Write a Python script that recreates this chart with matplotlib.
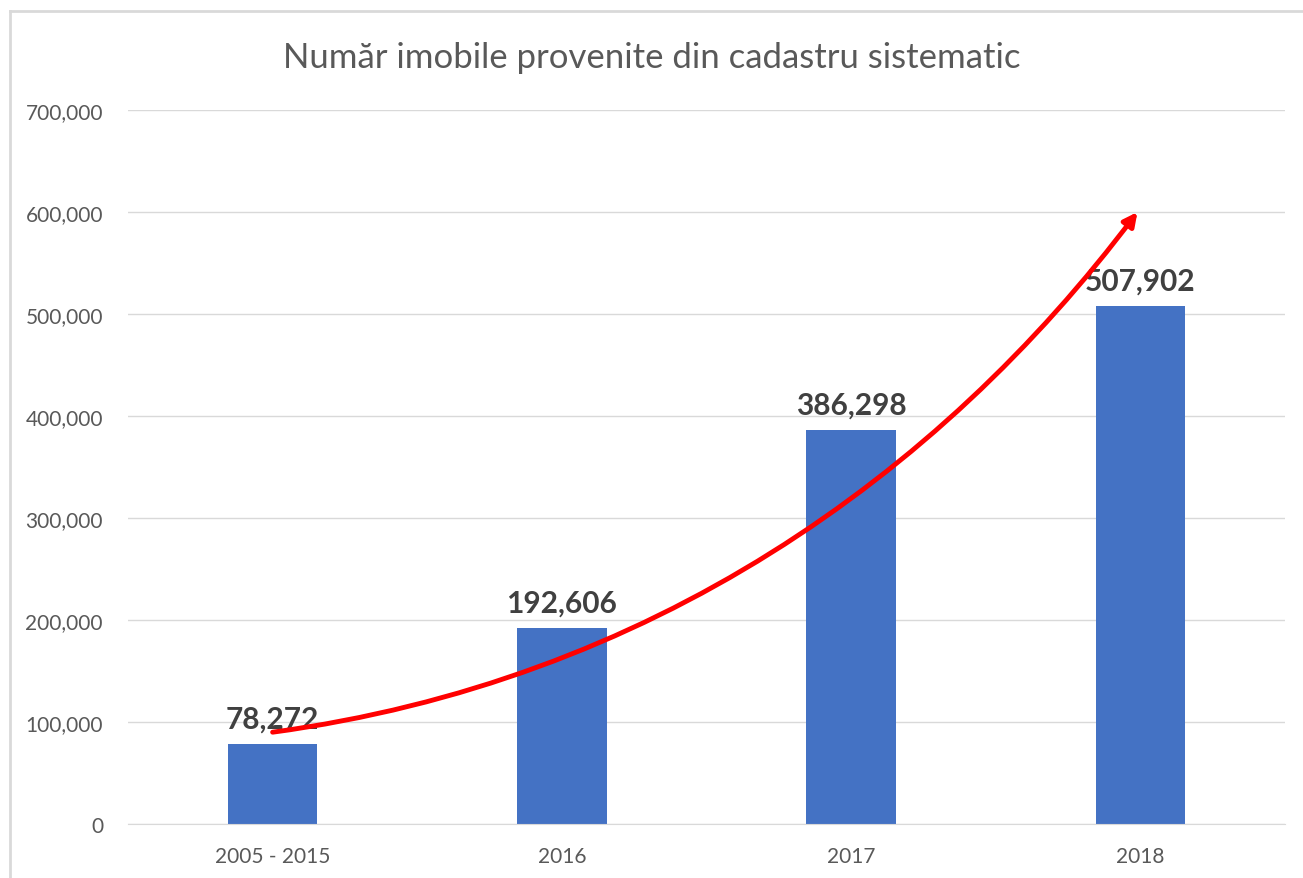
import matplotlib
matplotlib.use("Agg")
import matplotlib.pyplot as plt
from matplotlib.patches import FancyArrowPatch
from matplotlib.path import Path
from matplotlib.lines import Line2D
from matplotlib.ticker import FuncFormatter

categories = ["2005 - 2015", "2016", "2017", "2018"]
values     = [78272, 192606, 386298, 507902]
title      = "Număr imobile provenite din cadastru sistematic"

# trend arrow control points (category index, value)
trend_pts = [(0, 90000), (1.3, 140000), (2.3, 340000), (2.99, 600000)]

plt.rcParams["font.family"] = ["Lato", "DejaVu Sans"]

fig = plt.figure(figsize=(13.03, 8.79), dpi=100)
W, H = 1303, 879
ax = fig.add_axes([128 / W, 1 - 825 / H, (1285 - 128) / W, (825 - 111) / H])

x = range(len(categories))
bars = ax.bar(x, values, width=0.31, color="#4472c4", zorder=2)
for b, v in zip(bars, values):
    ax.annotate(f"{v:,}", (b.get_x() + b.get_width() / 2, v), xytext=(0, 8),
                textcoords="offset points", ha="center", va="bottom",
                fontsize=21.5, fontweight="bold", color="#404040", zorder=3)

ax.set_xlim(-0.5, 3.5)
ax.set_ylim(0, 700000)
ax.set_yticks(range(0, 700001, 100000))
ax.yaxis.set_major_formatter(FuncFormatter(lambda v, _: f"{int(v):,}"))
ax.set_xticks(list(x))
ax.set_xticklabels(categories)
ax.tick_params(length=0, labelsize=15, labelcolor="#595959")
ax.tick_params(axis="y", pad=18)
ax.tick_params(axis="x", pad=16)
ax.grid(axis="y", color="#d9d9d9", lw=1, zorder=0)
for s in ["top", "right", "left"]:
    ax.spines[s].set_visible(False)
ax.spines["bottom"].set_color("#d9d9d9")

codes = [Path.MOVETO, Path.CURVE4, Path.CURVE4, Path.CURVE4]
arrow = FancyArrowPatch(path=Path(trend_pts, codes), arrowstyle="-|>",
                        mutation_scale=20, color="#ff0000", lw=3.5, zorder=4)
ax.add_patch(arrow)

fig.text(0.5, 1 - 58 / H, title, ha="center", va="center",
         fontsize=25, color="#595959")

# outer chart frame
fig.add_artist(Line2D([10 / W, 1], [1 - 12 / H, 1 - 12 / H], color="#d9d9d9", lw=2))
fig.add_artist(Line2D([10 / W, 10 / W], [0, 1 - 12 / H], color="#d9d9d9", lw=2))

fig.savefig("out.png", dpi=100, facecolor="white")
